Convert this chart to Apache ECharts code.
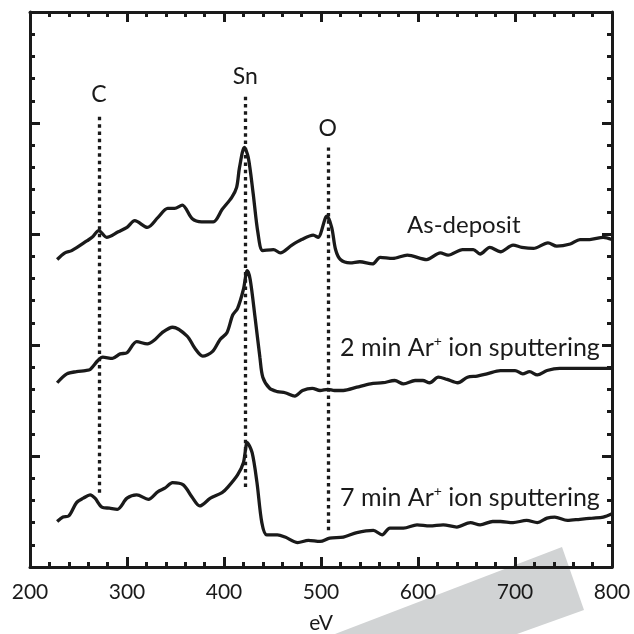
<!DOCTYPE html>
<html>
<head>
<meta charset="utf-8">
<script src="https://cdn.jsdelivr.net/npm/echarts@6/dist/echarts.min.js"></script>
<style>
  html, body { margin: 0; padding: 0; background: #fff; }
  #chart { width: 634px; height: 634px; }
</style>
</head>
<body>
<div id="chart"></div>
<script>
  // spectra (eV, arbitrary intensity with offsets)
  var asDepositEnergy = [228, 236, 243, 259, 264, 271, 279, 291, 300, 308, 321, 332, 342, 349, 357, 367, 377, 389, 398, 408,
    413, 416, 421, 425, 430, 435, 440, 451, 458, 470, 480, 492, 497, 506, 511, 515, 520, 530, 540, 553,
    561, 574, 589, 609, 623, 631, 646, 657, 664, 674, 685, 698, 707, 719, 734, 743, 757, 767, 777, 791, 800];
  var asDepositCounts = [277, 283, 285, 294, 297, 303, 297, 302, 306, 312, 306, 315, 323, 323, 326, 314, 311, 311, 322, 333,
    342, 360, 378, 369, 337, 301, 285, 286, 283, 290, 295, 299, 297, 316, 306, 286, 277, 274, 275, 273,
    279, 278, 281, 277, 283, 281, 286, 286, 282, 288, 284, 290, 288, 287, 292, 289, 291, 295, 295, 297, 295];

  var sputter2Energy = [228, 238, 248, 257, 262, 270, 275, 285, 293, 300, 310, 321, 329, 336, 347, 362, 370, 378, 388, 396,
    403, 409, 414, 420, 424, 427, 432, 437, 440, 447, 455, 463, 473, 481, 491, 499, 507, 514, 523, 537,
    551, 564, 576, 585, 597, 605, 612, 621, 630, 641, 651, 661, 671, 685, 700, 708, 715, 723, 733, 746,
    764, 777, 800];
  var sputter2Counts = [166, 174, 176, 177, 178, 186, 189, 188, 192, 193, 203, 201, 205, 211, 216, 208, 197, 190, 194, 205,
    211, 227, 233, 250, 267, 259, 225, 189, 171, 161, 158, 157, 154, 159, 161, 159, 160, 159, 159, 162,
    165, 166, 168, 165, 168, 168, 166, 171, 169, 166, 171, 172, 174, 177, 177, 174, 176, 173, 177, 179,
    179, 179, 179];

  var sputter7Energy = [228, 234, 240, 248, 255, 262, 267, 274, 282, 290, 300, 310, 322, 332, 339, 347, 358, 367, 375, 386,
    398, 404, 414, 420, 424, 429, 434, 439, 444, 455, 463, 476, 487, 499, 509, 523, 537, 554, 563, 571,
    585, 599, 612, 626, 640, 654, 664, 677, 685, 698, 712, 723, 733, 741, 754, 767, 780, 791, 800];
  var sputter7Counts = [41, 45, 46, 58, 62, 65, 62, 54, 53, 52, 62, 65, 61, 68, 71, 76, 74, 63, 55, 62,
    67, 72, 83, 94, 112, 103, 76, 40, 29, 29, 27, 22, 24, 23, 26, 27, 31, 33, 29, 35,
    35, 38, 37, 38, 36, 40, 38, 41, 41, 40, 42, 40, 44, 45, 42, 43, 44, 45, 48];

  // element markers (dotted lines)
  var peakNames = ['C', 'Sn', 'O'];
  var peakEnergy = [271, 422, 507];
  var peakLineTop = [409, 425, 378];
  var peakLineBottom = [67, 72, 33];

  var xTicks = [200, 300, 400, 500, 600, 700, 800];

  var ink = '#1a1a1a';
  var font = 'Lato';

  function pairs(xs, ys) {
    var out = [];
    for (var i = 0; i < xs.length; i++) out.push([xs[i], ys[i]]);
    return out;
  }

  function curve(name, xs, ys) {
    return {
      name: name,
      type: 'line',
      data: pairs(xs, ys),
      smooth: 0.3,
      symbol: 'none',
      lineStyle: { color: ink, width: 3.3 },
      z: 3
    };
  }

  var markData = [];
  for (var i = 0; i < peakNames.length; i++) {
    markData.push([
      { coord: [peakEnergy[i], peakLineBottom[i]] },
      { coord: [peakEnergy[i], peakLineTop[i]], name: peakNames[i] }
    ]);
  }

  function frameX(pos, labels) {
    return {
      type: 'value',
      position: pos,
      min: xTicks[0],
      max: xTicks[xTicks.length - 1],
      interval: 100,
      name: labels ? 'eV' : '',
      nameLocation: 'middle',
      nameGap: 46,
      nameTextStyle: { fontFamily: font, fontSize: 21, color: ink },
      axisLine: { show: true, onZero: false, lineStyle: { color: ink, width: 3 } },
      axisTick: { show: true, inside: true, length: 10, lineStyle: { color: ink, width: 3 } },
      minorTick: { show: true, splitNumber: 5, length: 5, lineStyle: { color: ink, width: 3 } },
      axisLabel: { show: labels, margin: 15, fontFamily: font, fontSize: 21, color: ink },
      splitLine: { show: false },
      minorSplitLine: { show: false }
    };
  }

  function frameY(pos) {
    return {
      type: 'value',
      position: pos,
      min: 0,
      max: 500,
      interval: 100,
      axisLine: { show: true, onZero: false, lineStyle: { color: ink, width: 3 } },
      axisTick: { show: true, inside: true, length: 10, lineStyle: { color: ink, width: 3 } },
      minorTick: { show: true, splitNumber: 5, length: 5, lineStyle: { color: ink, width: 3 } },
      axisLabel: { show: false },
      splitLine: { show: false },
      minorSplitLine: { show: false }
    };
  }

  function tag(x, y, main, size) {
    return {
      type: 'text',
      x: x,
      y: y,
      z: 10,
      style: {
        text: main,
        fill: ink,
        font: size + 'px ' + font,
        align: 'left',
        verticalAlign: 'middle',
        rich: {
          sup: { fontSize: 14, fontFamily: font, fill: ink, verticalAlign: 'top', lineHeight: 14 },
          t: { fontSize: size, fontFamily: font, fill: ink, lineHeight: 28 }
        }
      }
    };
  }

  var chart = echarts.init(document.getElementById('chart'), null, { renderer: 'canvas' });

  var option = {
    backgroundColor: '#fff',
    animation: false,
    grid: { left: 30, right: 22, top: 12, bottom: 67, containLabel: false, outerBoundsMode: 'none' },
    xAxis: [frameX('bottom', true), frameX('top', false)],
    yAxis: [frameY('left'), frameY('right')],
    graphic: [
      {
        type: 'polygon',
        z: -10,
        silent: true,
        shape: { points: [[335, 634], [562, 547], [584, 610], [517, 634]] },
        style: { fill: '#d1d3d4' }
      },
      tag(407, 225, '{t|As-deposit}', 24),
      tag(340, 348, '{t|2 min Ar}{sup|+}{t| ion sputtering}', 25),
      tag(340, 498, '{t|7 min Ar}{sup|+}{t| ion sputtering}', 25)
    ],
    series: [
      curve('As-deposit', asDepositEnergy, asDepositCounts),
      curve('2 min', sputter2Energy, sputter2Counts),
      curve('7 min', sputter7Energy, sputter7Counts),
      {
        name: 'elements',
        type: 'line',
        data: [],
        z: 2,
        markLine: {
          silent: true,
          symbol: ['none', 'none'],
          animation: false,
          lineStyle: { color: ink, width: 3.3, type: [3.5, 3.8] },
          label: {
            show: true,
            position: 'end',
            distance: 7,
            formatter: '{b}',
            fontFamily: font,
            fontSize: 23,
            color: ink
          },
          data: markData
        }
      }
    ]
  };

  chart.setOption(option);
</script>
</body>
</html>
